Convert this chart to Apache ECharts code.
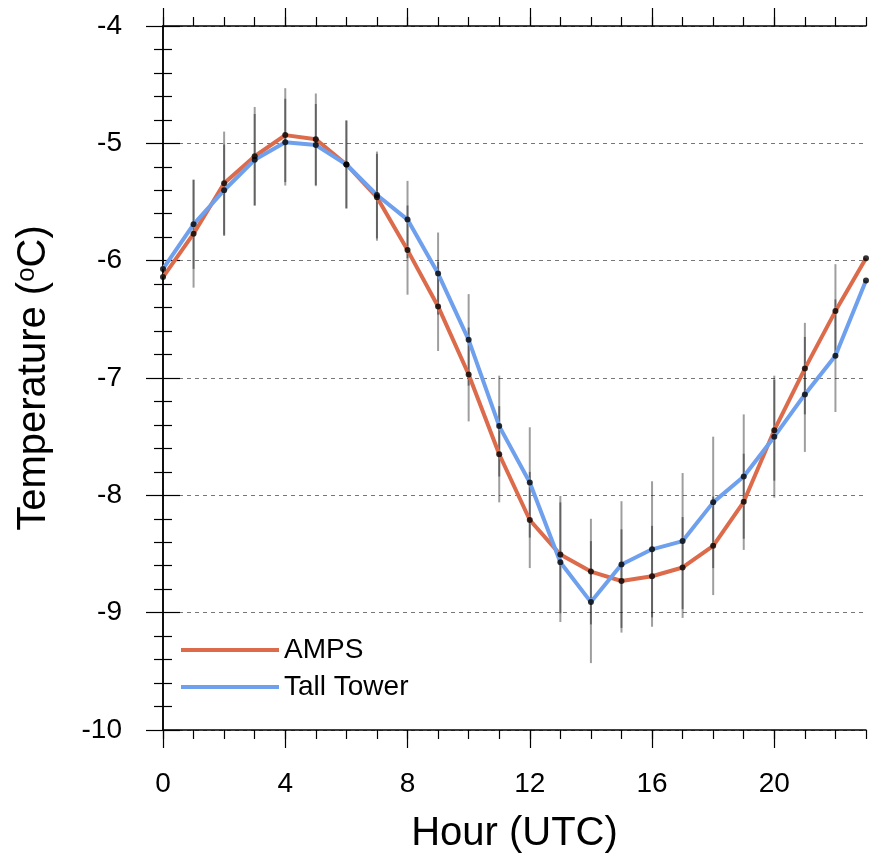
<!DOCTYPE html>
<html>
<head>
<meta charset="utf-8">
<script src="https://cdn.jsdelivr.net/npm/echarts@6/dist/echarts.min.js"></script>
<style>html,body{margin:0;padding:0;background:#fff;}#chart{width:877px;height:859px;}</style>
</head>
<body>
<div id="chart"></div>
<script>
// ---- data ----
const hours = [0,1,2,3,4,5,6,7,8,9,10,11,12,13,14,15,16,17,18,19,20,21,22,23];
const amps = [-6.14,-5.77,-5.34,-5.11,-4.93,-4.965,-5.18,-5.46,-5.91,-6.39,-6.97,-7.65,-8.21,-8.505,-8.65,-8.73,-8.69,-8.615,-8.43,-8.055,-7.445,-6.92,-6.43,-5.98];
const tower = [-6.07,-5.69,-5.40,-5.14,-4.99,-5.015,-5.18,-5.44,-5.65,-6.11,-6.675,-7.41,-7.89,-8.57,-8.91,-8.59,-8.46,-8.39,-8.06,-7.84,-7.50,-7.14,-6.81,-6.17];
const ampsErr = [null,0.46,0.44,0.42,0.40,0.39,0.375,0.37,0.38,0.38,0.40,0.41,0.41,0.50,0.45,0.44,0.43,0.43,0.42,0.41,0.43,0.39,0.40,null];
const towerErr = [null,0.38,0.39,0.39,0.37,0.35,0.375,0.37,0.33,0.35,0.39,0.43,0.47,0.51,0.52,0.54,0.58,0.58,0.56,0.53,0.52,0.49,0.48,null];
const xTickLabels = [0,4,8,12,16,20];
const yMin = -10, yMax = -4;
const seriesNames = ['AMPS','Tall Tower'];

const RED = '#DC6B4C', BLUE = '#6EA0EE';
const FONT = "'Liberation Sans', Arial, Helvetica, sans-serif";

const chart = echarts.init(document.getElementById('chart'), null, {renderer:'canvas'});

function pairs(vals){ return hours.map((h,i)=>[h, vals[i]]); }
function errData(vals, errs){
  const out = [];
  hours.forEach((h,i)=>{ if (errs[i] != null) out.push([h, vals[i], errs[i]]); });
  return out;
}
function errSeries(vals, errs){
  return {
    type:'custom', xAxisIndex:0, yAxisIndex:0, z:2, silent:true, clip:false,
    data: errData(vals, errs),
    renderItem: function(params, api){
      const x = api.value(0), v = api.value(1), e = api.value(2);
      const p1 = api.coord([x, v - e]), p2 = api.coord([x, v + e]);
      return {type:'line', shape:{x1:p1[0], y1:p1[1], x2:p2[0], y2:p2[1]},
        style:{stroke:'rgba(0,0,0,0.38)', lineWidth:2}};
    }
  };
}

const axisLine = {show:true, lineStyle:{color:'#000', width:1.5}};
const majorX = {min:0, max:23, type:'value', interval:4};
const minorX = {min:0, max:23, type:'value', interval:1};

const option = {
  animation:false,
  backgroundColor:'#fff',
  textStyle:{fontFamily:FONT},
  grid:{left:163, right:11, top:26, bottom:128, containLabel:false},
  legend:{
    data: seriesNames.map(n=>({name:n})),
    orient:'vertical', left:176, top:631, icon:'rect', itemWidth:98, itemHeight:4, itemGap:9,
    textStyle:{fontSize:28, color:'#000', fontFamily:FONT}
  },
  xAxis:[
    Object.assign({}, majorX, {position:'bottom', axisLine:axisLine,
      axisTick:{show:true, inside:false, length:18, customValues:xTickLabels, lineStyle:{color:'#000', width:1.2}},
      axisLabel:{show:true, customValues:xTickLabels, margin:40, fontSize:28, color:'#000', fontFamily:FONT},
      splitLine:{show:false},
      name:'Hour (UTC)', nameLocation:'middle', nameGap:84,
      nameTextStyle:{fontSize:40, color:'#000', fontFamily:FONT}}),
    Object.assign({}, minorX, {position:'bottom', axisLine:{show:false},
      axisTick:{show:true, length:9, lineStyle:{color:'#000', width:1.2}},
      axisLabel:{show:false}, splitLine:{show:false}}),
    Object.assign({}, majorX, {position:'top', axisLine:axisLine,
      axisTick:{show:true, length:18, customValues:xTickLabels, lineStyle:{color:'#000', width:1.2}},
      axisLabel:{show:false}, splitLine:{show:false}}),
    Object.assign({}, minorX, {position:'top', axisLine:{show:false},
      axisTick:{show:true, length:9, lineStyle:{color:'#000', width:1.2}},
      axisLabel:{show:false}, splitLine:{show:false}})
  ],
  yAxis:[
    {type:'value', min:yMin, max:yMax, interval:1, position:'left', axisLine:axisLine,
      axisTick:{show:true, length:17, lineStyle:{color:'#000', width:1.2}},
      minorTick:{show:true, splitNumber:5, length:9, lineStyle:{color:'#000', width:1.2}},
      axisLabel:{show:true, margin:41, fontSize:28, color:'#000', fontFamily:FONT},
      splitLine:{show:true, lineStyle:{color:'#777', width:1, type:[4,4]}},
      name:'{n|Temperature (}{s|o}{n|C)}', nameLocation:'middle', nameGap:109,
      nameTextStyle:{color:'#000', fontFamily:FONT, fontSize:40,
        rich:{n:{fontSize:40, color:'#000', fontFamily:FONT}, s:{fontSize:26, color:'#000', fontFamily:FONT, verticalAlign:'top'}}}},
    {type:'value', min:yMin, max:yMax, interval:1, position:'right', axisLine:axisLine,
      axisTick:{show:true, length:17, lineStyle:{color:'#000', width:1.2}},
      minorTick:{show:true, splitNumber:5, length:9, lineStyle:{color:'#000', width:1.2}},
      axisLabel:{show:false}, splitLine:{show:false}}
  ],
  series:[
    errSeries(amps, ampsErr),
    errSeries(tower, towerErr),
    {name:seriesNames[0], type:'line', xAxisIndex:0, yAxisIndex:0, z:3, data:pairs(amps), showSymbol:false, symbol:'none',
      color:RED, lineStyle:{color:RED, width:4}, itemStyle:{color:RED}},
    {name:seriesNames[1], type:'line', xAxisIndex:0, yAxisIndex:0, z:3, data:pairs(tower), showSymbol:false, symbol:'none',
      color:BLUE, lineStyle:{color:BLUE, width:4}, itemStyle:{color:BLUE}},
    {name:'ampsPts', type:'scatter', xAxisIndex:0, yAxisIndex:0, z:4, data:pairs(amps), symbolSize:6, itemStyle:{color:'#000'}, clip:false},
    {name:'towerPts', type:'scatter', xAxisIndex:0, yAxisIndex:0, z:4, data:pairs(tower), symbolSize:6, itemStyle:{color:'#000'}, clip:false}
  ]
};
chart.setOption(option);
</script>
</body>
</html>
